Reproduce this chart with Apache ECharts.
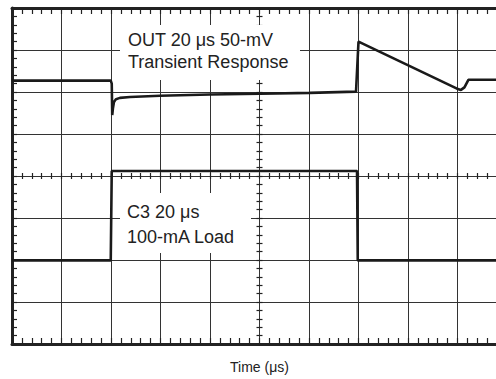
<!DOCTYPE html>
<html>
<head>
<meta charset="utf-8">
<script src="https://cdn.jsdelivr.net/npm/echarts@6/dist/echarts.min.js"></script>
<style>
html,body{margin:0;padding:0;background:#fff;overflow:hidden;}
#c{width:530px;height:379px;}
</style>
</head>
<body>
<div id="c"></div>
<script>
// Time axis (µs): 20 µs per division, 10 divisions
const timeMin = 0, timeMax = 200, timeStep = 20;
// Vertical axis in screen divisions: 8 divisions
const divMin = 0, divMax = 8, divStep = 1;

// OUT trace (50 mV/div), values in divisions
const outTime = [0, 39.9, 40.3, 40.5, 40.8, 41.2, 42.0, 43.6, 47.7, 59.8, 80, 100.2, 120.4, 139.0, 140.0, 179.8, 181.4, 182.8, 184.4, 200];
const outLevel = [6.27, 6.27, 6.2, 5.45, 5.62, 5.76, 5.83, 5.86, 5.88, 5.91, 5.94, 5.96, 5.98, 6.01, 7.20, 6.08, 6.05, 6.11, 6.29, 6.29];

// C3 load trace (100 mA load step), values in divisions
const loadTime = [0, 39.9, 40.3, 139.4, 139.7, 200];
const loadLevel = [1.99, 1.99, 4.12, 4.12, 1.99, 1.99];

const xLabel = 'Time (\u03bcs)';
const note1 = ['OUT 20 \u03bcs 50-mV', 'Transient Response'];
const note2 = ['C3 20 \u03bcs', '100-mA Load'];

const FONT = 'Liberation Sans, Arial, Helvetica, sans-serif';
const INK = '#222';

function pairs(xs, ys){ return xs.map((x,i)=>[x, ys[i]]); }

function xAx(extra){
  return Object.assign({
    type:'value', min:timeMin, max:timeMax, interval:timeStep,
    axisLabel:{show:false}, splitLine:{show:false},
    axisLine:{show:false, onZero:false},
    axisTick:{show:true, inside:true, length:6, lineStyle:{color:INK, width:1.2}},
    minorTick:{show:true, splitNumber:5, length:6, lineStyle:{color:INK, width:1.2}}
  }, extra);
}
function yAx(extra){
  return Object.assign({
    type:'value', min:divMin, max:divMax, interval:divStep,
    axisLabel:{show:false}, splitLine:{show:false},
    axisLine:{show:false, onZero:false},
    axisTick:{show:true, inside:true, length:5, lineStyle:{color:INK, width:1.2}},
    minorTick:{show:true, splitNumber:5, length:5, lineStyle:{color:INK, width:1.2}}
  }, extra);
}

const chart = echarts.init(document.getElementById('c'), null, {renderer:'svg'});
const gridLeft = 12, gridTop = 8, gridW = 495, gridH = 336;

chart.setOption({
  animation:false,
  backgroundColor:'#fff',
  grid:{left:gridLeft, top:gridTop, width:gridW, height:gridH},
  xAxis:[
    xAx({position:'bottom',
      axisLine:{show:true, onZero:false, lineStyle:{color:INK, width:3}},
      splitLine:{show:true, lineStyle:{color:'#333', width:1}},
      name:xLabel, nameLocation:'middle', nameGap:16,
      nameTextStyle:{fontFamily:FONT, fontSize:14, color:INK}}),
    xAx({position:'top', axisLine:{show:true, onZero:false, lineStyle:{color:INK, width:3}}}),
    xAx({position:'bottom', offset:-gridH/2, axisTick:{show:true, inside:true, length:3, lineStyle:{color:INK, width:1.2}}, minorTick:{show:true, splitNumber:5, length:3, lineStyle:{color:INK, width:1.2}}}),
    xAx({position:'bottom', offset:-gridH/2, axisTick:{show:true, inside:false, length:3, lineStyle:{color:INK, width:1.2}}, minorTick:{show:true, splitNumber:5, length:3, lineStyle:{color:INK, width:1.2}}})
  ],
  yAxis:[
    yAx({position:'left',
      axisLine:{show:true, onZero:false, lineStyle:{color:INK, width:3}},
      splitLine:{show:true, lineStyle:{color:'#333', width:1}}}),
    yAx({position:'left', offset:-gridW/2, axisTick:{show:true, inside:true, length:3, lineStyle:{color:INK, width:1.2}}, minorTick:{show:true, splitNumber:5, length:3, lineStyle:{color:INK, width:1.2}}}),
    yAx({position:'left', offset:-gridW/2, axisTick:{show:true, inside:false, length:3, lineStyle:{color:INK, width:1.2}}, minorTick:{show:true, splitNumber:5, length:3, lineStyle:{color:INK, width:1.2}}})
  ],
  graphic:[
    {type:'rect', z:1, shape:{x:120, y:25, width:180, height:55}, style:{fill:'#fff'}},
    {type:'text', z:2, x:128, y:39.5, style:{text:note1[0], font:'18px '+FONT, fill:INK, textVerticalAlign:'middle'}},
    {type:'text', z:2, x:128, y:62, style:{text:note1[1], font:'18px '+FONT, fill:INK, textVerticalAlign:'middle'}},
    {type:'rect', z:1, shape:{x:120, y:193, width:131, height:60}, style:{fill:'#fff'}},
    {type:'text', z:2, x:127, y:212, style:{text:note2[0], font:'18px '+FONT, fill:INK, textVerticalAlign:'middle'}},
    {type:'text', z:2, x:127, y:237, style:{text:note2[1], font:'18px '+FONT, fill:INK, textVerticalAlign:'middle'}}
  ],
  series:[
    {type:'line', name:'OUT', xAxisIndex:0, yAxisIndex:0, data:pairs(outTime, outLevel),
      showSymbol:false, lineStyle:{color:'#1a1a1a', width:2.6}, z:5},
    {type:'line', name:'C3 Load', xAxisIndex:0, yAxisIndex:0, data:pairs(loadTime, loadLevel),
      showSymbol:false, lineStyle:{color:'#1a1a1a', width:2.6}, z:5}
  ]
});
</script>
</body>
</html>
